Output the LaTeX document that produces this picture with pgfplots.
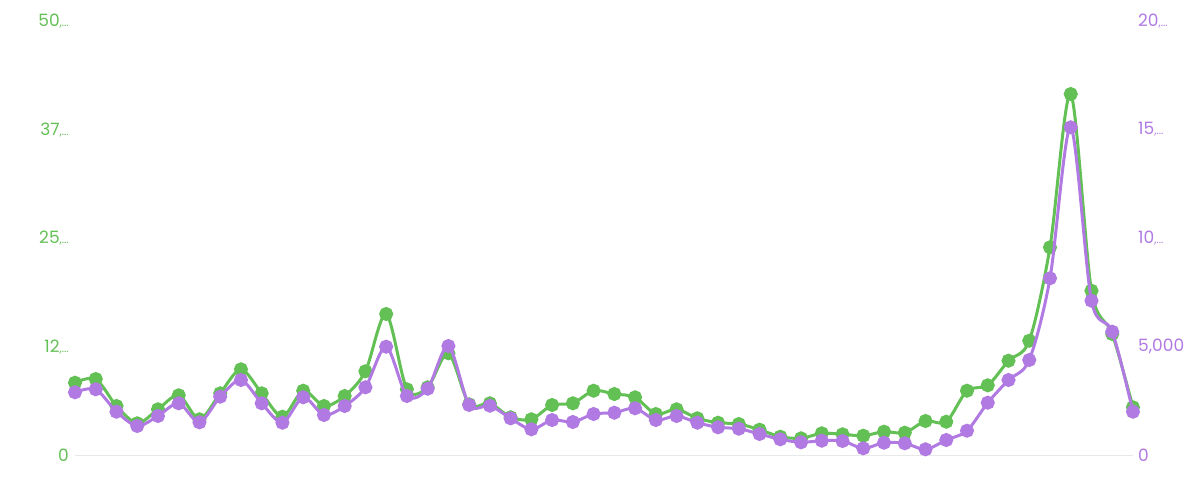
\documentclass[border=0pt]{standalone}
\usepackage{pgfplots}
\pgfplotsset{compat=1.18}
\usepackage{fontspec}
\setmainfont{Poppins}
\definecolor{cgreen}{RGB}{98,192,84}
\definecolor{cpurple}{RGB}{176,122,226}
\definecolor{cbase}{RGB}{232,232,232}
\pgfplotstableread{
x g p
1 8377 2909
2 8803 3047
3 5696 2016
4 3705 1358
5 5316 1818
6 6927 2403
7 4166 1528
8 7157 2707
9 9919 3475
10 7157 2403
11 4465 1510
12 7457 2679
13 5696 1864
14 6847 2278
15 9689 3139
16 16283 5008
17 7618 2739
18 7848 3075
19 11760 5040
20 5892 2325
21 6007 2292
22 4396 1712
23 4166 1206
24 5811 1634
25 6007 1542
26 7457 1910
27 7077 1970
28 6697 2173
29 4775 1634
30 5316 1818
31 4281 1510
32 3774 1298
33 3625 1234
34 2969 990
35 2163 746
36 1979 608
37 2555 681
38 2440 667
39 2278 331
40 2739 589
41 2624 562
42 3970 285
43 3889 713
44 7457 1142
45 8078 2430
46 10909 3475
47 13210 4396
48 23958 8157
49 41598 15107
50 18964 7125
51 13981 5698
52 5546 2016
}\datatable
\newcommand{\tl}[2]{\mbox{#1{\fontsize{11}{11}\selectfont #2}}}
\begin{document}
\begin{tikzpicture}[x=1pt,y=1pt]
\useasboundingbox (0,0) rectangle (1204,480);
\pgfplotsset{
  common/.style={
    at={(75pt,24.5pt)}, anchor=south west,
    scale only axis, width=1058pt, height=434.5pt,
    xmin=1, xmax=52, ymin=0,
    axis x line=none,
    y axis line style={draw=none},
    major tick length=0pt,
    scaled y ticks=false,
    clip=false,
    every axis plot/.append style={smooth, tension=0.5, line width=3pt, mark=*, mark size=5.5pt},
  }
}
\begin{axis}[common,
  axis y line*=left,
  ymax=50000,
  ytick={0,12500,25000,37500,50000},
  yticklabels={\mbox{0},\tl{12}{,...},\tl{25}{,...},\tl{37}{,...},\tl{50}{,...}},
  yticklabel style={text=cgreen, font=\fontsize{17}{17}\selectfont, anchor=east, inner sep=0pt, xshift=-6pt},
]
\draw[cbase, line width=1.5pt] (axis cs:1,0) -- (axis cs:52,0);
\addplot[cgreen, mark options={fill=cgreen, draw=cgreen}] table[x=x, y=g] {\datatable};
\end{axis}
\begin{axis}[common,
  axis y line*=right,
  ymax=20000,
  ytick={0,5000,10000,15000,20000},
  yticklabels={\mbox{0},\mbox{5,000},\tl{10}{,...},\tl{15}{,...},\tl{20}{,...}},
  yticklabel style={text=cpurple, font=\fontsize{17}{17}\selectfont, anchor=west, inner sep=0pt, xshift=5pt},
]
\addplot[cpurple, mark options={fill=cpurple, draw=cpurple}] table[x=x, y=p] {\datatable};
\end{axis}
\end{tikzpicture}
\end{document}
